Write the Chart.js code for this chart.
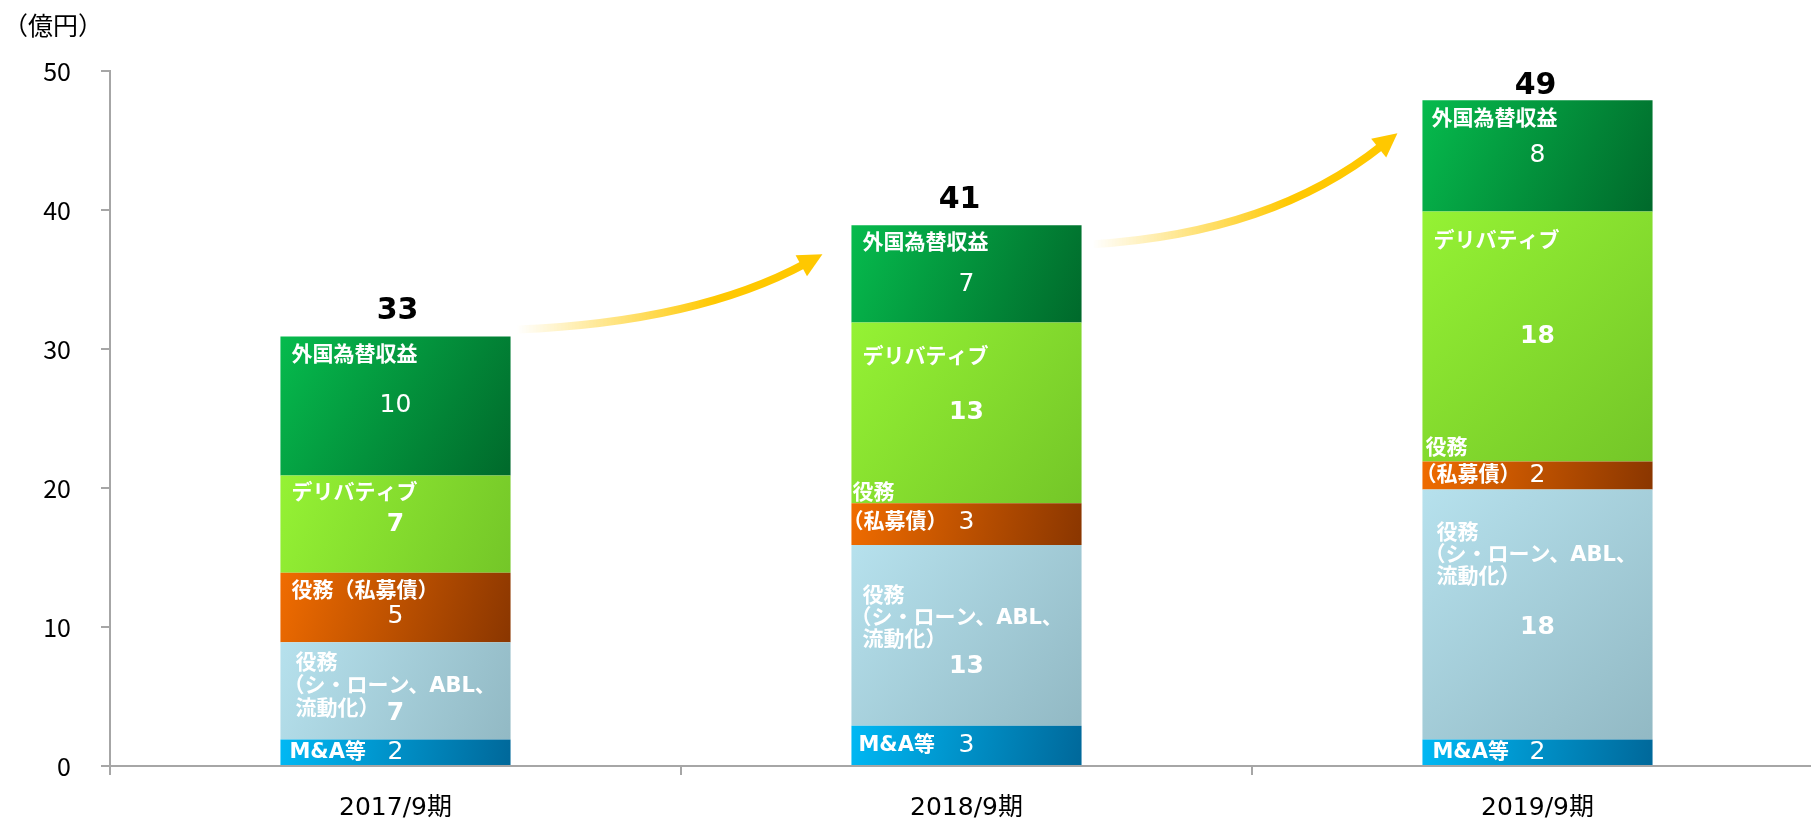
<!DOCTYPE html>
<html><head><meta charset="utf-8">
<script src="https://cdn.jsdelivr.net/npm/chart.js@4/dist/chart.umd.min.js"></script>
<style>
html,body{margin:0;padding:0;overflow:hidden;background:#fff;width:1811px;height:824px}
#wrap{position:relative;width:1823px;height:824px}
</style></head>
<body><div id="wrap"><canvas id="c" width="1823" height="824"></canvas></div>
<script>
// ---- data ----
const categories = ['2017/9期', '2018/9期', '2019/9期'];
const seriesNames = ['M&A等', '役務（シ・ローン、ABL、流動化）', '役務（私募債）', 'デリバティブ', '外国為替収益'];
const maValues = [1.9, 2.9, 1.9];
const syndicateValues = [7, 13, 18];
const privateBondValues = [5, 3, 2];
const derivativeValues = [7, 13, 18];
const fxValues = [10, 7, 8];
const maLabels = ['2', '3', '2'];
const syndicateLabels = ['7', '13', '18'];
const privateBondLabels = ['5', '3', '2'];
const derivativeLabels = ['7', '13', '18'];
const fxLabels = ['10', '7', '8'];
const totalLabels = ['33', '41', '49'];
const yTicks = [0, 10, 20, 30, 40, 50];
const unitLabel = '（億円）';
const maNameLines = ['M&A等'];
const syndicateNameLines = ['役務', '（シ・ローン、ABL、', '流動化）'];
const privateBondNameLinesOne = ['役務（私募債）'];
const privateBondNameLinesTwo = ['役務', '（私募債）'];
const derivativeNameLines = ['デリバティブ'];
const fxNameLines = ['外国為替収益'];

const stacks = [maValues, syndicateValues, privateBondValues, derivativeValues, fxValues];
const valueLabels = [maLabels, syndicateLabels, privateBondLabels, derivativeLabels, fxLabels];
const nameLines = [
  [maNameLines, maNameLines, maNameLines],
  [syndicateNameLines, syndicateNameLines, syndicateNameLines],
  [privateBondNameLinesOne, privateBondNameLinesTwo, privateBondNameLinesTwo],
  [derivativeNameLines, derivativeNameLines, derivativeNameLines],
  [fxNameLines, fxNameLines, fxNameLines]
];

// ---- styles / layout ----
const FONT_JP = '"Noto Sans CJK JP", "Noto Sans", sans-serif';
const FONT_NUM = '"DejaVu Sans", "Noto Sans CJK JP", sans-serif';
const BAR_PCT = 0.403;
const AXIS_COLOR = '#a6a6a6';
const NAME_SIZE = 21;
const VALUE_SIZE = 25;
const valueBold = [false, true, false, true, false];
const seriesColors = [
  ['#00b8f4', '#00689a'],
  ['#b6e1ed', '#92b9c4'],
  ['#f06c00', '#8a3600'],
  ['#95f234', '#74c628'],
  ['#06bb4d', '#00692b']
];
// in-bar label layout (offsets relative to segment left/top)
const inBarLayout = [
  [{nx: 9, ny: 'mid'}, {nx: 7, ny: 'mid'}, {nx: 10, ny: 'mid'}],
  [{nx: 15, ny: 21, lh: 23, vy: 71, dx: [0, -12, 0]}, {nx: 11, ny: 52, lh: 22, vy: 122, dx: [0, -12, 0]}, {nx: 14, ny: 44, lh: 22, vy: 138, dx: [0, -12, 0]}],
  [{nx: 11, ny: 19, vy: 44}, {nx: 1, ny: -10, lh: 29, vy: 19, dx: [0, -10]}, {nx: 3, ny: -13, lh: 27, vy: 14, dx: [0, -10]}],
  [{nx: 11, ny: 18}, {nx: 11, ny: 35}, {nx: 11, ny: 30}],
  [{nx: 11, ny: 19}, {nx: 11, ny: 18, vy: 59}, {nx: 9, ny: 19}]
];
const totalOffsets = [{dx: 2, dy: -25}, {dx: -7, dy: -25}, {dx: -2, dy: -14}];

function grad(ctx, si) {
  const chart = ctx.chart;
  const c = seriesColors[si];
  const xs = chart.scales.x, ys = chart.scales.y;
  if (!chart.chartArea || !xs || !ys || ctx.type !== 'data') return c[0];
  const j = ctx.dataIndex;
  let base = 0;
  for (let k = 0; k < si; k++) base += stacks[k][j];
  const top = base + stacks[si][j];
  const cx = xs.getPixelForValue(j);
  const half = (xs.width / categories.length) * BAR_PCT / 2;
  const y0 = ys.getPixelForValue(top), y1 = ys.getPixelForValue(base);
  if (!isFinite(cx) || !isFinite(y0) || !isFinite(y1)) return c[0];
  const g = chart.ctx.createLinearGradient(cx - half, y0, cx + half, y1);
  g.addColorStop(0, c[0]);
  g.addColorStop(1, c[1]);
  return g;
}

function drawArrow(ctx, sx, sy, tx, ty, cx, cy) {
  const headLen = 24, headHalf = 12, w = 8;
  let dx = tx - cx, dy = ty - cy;
  const d = Math.hypot(dx, dy); dx /= d; dy /= d;
  const bx = tx - dx * headLen * 0.8, by = ty - dy * headLen * 0.8;
  const g = ctx.createLinearGradient(sx, 0, tx, 0);
  g.addColorStop(0, 'rgba(255,200,0,0)');
  g.addColorStop(0.65, 'rgba(255,200,0,1)');
  g.addColorStop(1, 'rgba(255,200,0,1)');
  ctx.strokeStyle = g;
  ctx.lineWidth = w;
  ctx.lineCap = 'butt';
  ctx.beginPath();
  ctx.moveTo(sx, sy);
  ctx.quadraticCurveTo(cx, cy, bx, by);
  ctx.stroke();
  const hx = tx - dx * headLen, hy = ty - dy * headLen;
  ctx.fillStyle = '#ffc800';
  ctx.beginPath();
  ctx.moveTo(tx, ty);
  ctx.lineTo(hx - dy * headHalf, hy + dx * headHalf);
  ctx.lineTo(hx + dy * headHalf, hy - dx * headHalf);
  ctx.closePath();
  ctx.fill();
}

const labelPlugin = {
  id: 'labels',
  afterDatasetsDraw(chart) {
    const ctx = chart.ctx;
    ctx.save();
    ctx.textBaseline = 'middle';
    for (let si = 0; si < stacks.length; si++) {
      const meta = chart.getDatasetMeta(si);
      meta.data.forEach((el, j) => {
        const left = el.x - el.width / 2, top = el.y, bottom = el.base, mid = (top + bottom) / 2;
        const L = inBarLayout[si][j];
        ctx.fillStyle = '#fff';
        ctx.textAlign = 'left';
        ctx.font = `bold ${NAME_SIZE}px ${FONT_NUM}`;
        const ny0 = L.ny === 'mid' ? mid - top : L.ny;
        nameLines[si][j].forEach((t, k) => {
          ctx.fillText(t, left + L.nx + (L.dx ? L.dx[k] : 0), top + ny0 + k * (L.lh || 0));
        });
        ctx.textAlign = 'center';
        ctx.font = `${valueBold[si] ? 'bold ' : ''}${VALUE_SIZE}px ${FONT_NUM}`;
        const vy = L.vy == null ? mid : top + L.vy;
        ctx.fillText(valueLabels[si][j], el.x, vy);
      });
    }
    // totals
    const topMeta = chart.getDatasetMeta(stacks.length - 1);
    ctx.fillStyle = '#000';
    ctx.textAlign = 'center';
    ctx.font = `bold 30px ${FONT_NUM}`;
    topMeta.data.forEach((el, j) => {
      ctx.fillText(totalLabels[j], el.x + totalOffsets[j].dx, el.y + totalOffsets[j].dy);
    });
    // arrows
    const bars = topMeta.data;
    for (let j = 0; j < bars.length - 1; j++) {
      const a = bars[j], b = bars[j + 1];
      const sx = a.x + a.width / 2 + (j === 0 ? 6 : 11);
      const sy = a.y + (j === 0 ? -7 : 19);
      const tx = b.x - b.width / 2 - (j === 0 ? 29 : 25);
      const ty = b.y + (j === 0 ? 29 : 33);
      const cx = tx - 0.41 * (tx - sx);
      const cy = sy - 0.1 * (sy - ty);
      drawArrow(ctx, sx, sy, tx, ty, cx, cy);
    }
    // unit label
    ctx.fillStyle = '#000';
    ctx.textAlign = 'left';
    ctx.font = `25px ${FONT_JP}`;
    ctx.fillText(unitLabel, 3, 25);
    ctx.restore();
  }
};

new Chart(document.getElementById('c'), {
  type: 'bar',
  data: {
    labels: categories,
    datasets: seriesNames.map((n, i) => ({
      label: n,
      data: stacks[i],
      backgroundColor: (ctx) => grad(ctx, i),
      borderWidth: 0,
      barPercentage: BAR_PCT,
      categoryPercentage: 1
    }))
  },
  options: {
    responsive: false,
    animation: false,
    events: [],
    layout: {padding: {top: 71, left: 0, right: 0, bottom: 0}},
    plugins: {legend: {display: false}, tooltip: {enabled: false}},
    scales: {
      x: {
        stacked: true,
        grid: {display: true, drawOnChartArea: false, drawTicks: true, tickLength: 9, color: AXIS_COLOR, lineWidth: 2, offset: true},
        border: {display: true, color: AXIS_COLOR, width: 2},
        ticks: {font: {family: FONT_NUM, size: 25}, color: '#000', padding: 18, maxRotation: 0},
        afterFit(s) { s.height = 58; }
      },
      y: {
        stacked: true,
        min: 0, max: 50,
        afterBuildTicks(s) { s.ticks = yTicks.map(v => ({value: v})); },
        ticks: {font: {family: FONT_JP, size: 25}, color: '#000', padding: 30},
        grid: {display: true, drawOnChartArea: false, drawTicks: true, tickLength: 9, color: AXIS_COLOR, lineWidth: 2},
        border: {display: true, color: AXIS_COLOR, width: 2},
        afterFit(s) { s.width = 110; }
      }
    }
  },
  plugins: [labelPlugin]
});
</script>
</body></html>
